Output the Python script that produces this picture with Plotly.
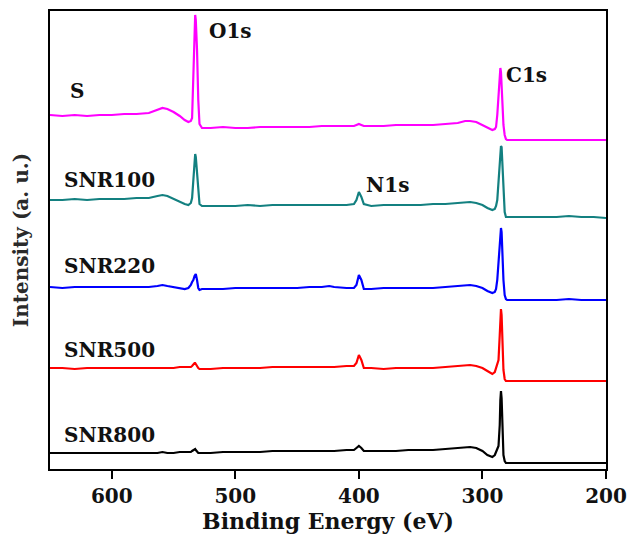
import plotly.graph_objects as go

# Binding-energy sampling points (eV), shared by all spectra
binding_energy = [
    650, 640, 630, 620, 610, 600, 590, 580, 570, 563,
    559, 555, 550, 545, 541, 538, 536, 535, 534, 533,
    532.5, 532, 531, 530, 529, 527, 520, 510, 500, 490,
    480, 470, 460, 450, 440, 430, 424, 420, 410, 404,
    402, 400, 398, 396, 390, 380, 370, 360, 350, 340,
    330, 320, 314, 310, 305, 300, 296, 292, 290, 289,
    288, 287, 286, 285.5, 285, 284.5, 284, 283, 282, 281,
    280, 270, 260, 250, 240, 230, 220, 210, 200,
]

# Stacked survey spectra (arbitrary intensity, offset for display)
int_S = [
    354, 353, 354, 353, 354, 354, 355, 355, 356, 359,
    361, 360, 357, 353, 349, 347, 348, 351, 389, 439,
    454, 449, 419, 369, 345, 341, 341, 342, 341, 341,
    342, 342, 342, 342, 342, 343, 343, 343, 343, 343,
    344, 345, 344, 343, 343, 343, 344, 344, 344, 344,
    345, 346, 348, 348, 347, 344, 341, 339, 340, 342,
    354, 374, 397, 401, 397, 381, 364, 344, 334, 330,
    329, 329, 329, 329, 329, 329, 329, 329, 329,
]
int_SNR100 = [
    269, 269, 270, 269, 270, 270, 270, 271, 271, 273,
    274, 273, 270, 267, 265, 264, 266, 271, 289, 309,
    315, 312, 294, 274, 265, 263, 263, 263, 263, 264,
    263, 264, 264, 264, 264, 264, 264, 264, 264, 265,
    269, 277, 272, 265, 263, 264, 264, 264, 264, 265,
    265, 266, 267, 267, 266, 264, 261, 259, 260, 263,
    269, 289, 311, 319, 323, 322, 311, 279, 257, 252,
    252, 252, 252, 252, 252, 253, 252, 252, 251,
]
int_SNR220 = [
    182, 181, 182, 182, 182, 182, 182, 182, 182, 183,
    184, 183, 182, 181, 180, 181, 184, 187, 189, 193,
    195, 195, 189, 181, 179, 180, 180, 180, 181, 181,
    181, 181, 181, 181, 182, 182, 183, 182, 181, 181,
    184, 194, 189, 180, 180, 181, 181, 181, 181, 181,
    182, 183, 184, 184, 183, 181, 178, 176, 177, 180,
    189, 209, 231, 239, 241, 237, 219, 189, 174, 170,
    169, 169, 169, 169, 169, 170, 169, 169, 169,
]
int_SNR500 = [
    101, 101, 100, 101, 101, 101, 101, 101, 101, 101,
    101, 101, 101, 102, 102, 102, 102, 103, 105, 106,
    106, 105, 102, 101, 100, 100, 100, 101, 101, 101,
    101, 102, 102, 102, 102, 102, 102, 102, 103, 103,
    106, 114, 109, 101, 101, 100, 101, 101, 101, 101,
    102, 103, 104, 104, 103, 101, 98, 95, 97, 101,
    105, 109, 134, 154, 160, 154, 129, 99, 90, 88,
    88, 88, 88, 88, 88, 88, 88, 88, 88,
]
int_SNR800 = [
    16, 16, 16, 16, 16, 16, 16, 16, 16, 16,
    17, 16, 16, 17, 17, 17, 17, 18, 19, 20,
    20, 19, 17, 16, 16, 16, 16, 17, 17, 17,
    17, 18, 18, 18, 18, 18, 18, 18, 19, 19,
    21, 23, 21, 18, 18, 18, 18, 19, 19, 19,
    20, 21, 22, 22, 21, 18, 14, 12, 14, 18,
    20, 23, 44, 69, 78, 71, 44, 14, 8, 6,
    6, 6, 6, 6, 6, 6, 6, 6, 6,
]

sample_names = ["S", "SNR100", "SNR220", "SNR500", "SNR800"]
sample_colors = ["#FF00FF", "#138080", "#0000FF", "#FF0000", "#000000"]
sample_data = [int_S, int_SNR100, int_SNR220, int_SNR500, int_SNR800]

# Label anchor points (binding energy, intensity) for the sample names
name_be = [628, 602, 602, 602, 602]
name_int = [378, 289, 203, 119, 34]

# Core-level peak labels
peak_labels = ["O1s", "N1s", "C1s"]
peak_be = [504, 377, 264]
peak_int = [438, 284, 394]

FONT = "DejaVu Serif"

fig = go.Figure()
for name, color, data in zip(sample_names, sample_colors, sample_data):
    fig.add_trace(go.Scatter(
        x=binding_energy, y=data, mode="lines", name=name,
        line=dict(color=color, width=2.2),
    ))

annotations = []
for name, xb, yi in zip(sample_names, name_be, name_int):
    annotations.append(dict(
        x=xb, y=yi, xref="x", yref="y", text=name, showarrow=False,
        font=dict(family=FONT, size=20, color="#111111", weight="bold"),
    ))
for name, xb, yi in zip(peak_labels, peak_be, peak_int):
    annotations.append(dict(
        x=xb, y=yi, xref="x", yref="y", text=name, showarrow=False,
        font=dict(family=FONT, size=20, color="#111111", weight="bold"),
    ))

fig.update_layout(
    width=630, height=535,
    margin=dict(l=50, r=24, t=11, b=66),
    paper_bgcolor="white", plot_bgcolor="white",
    showlegend=False,
    annotations=annotations,
    xaxis=dict(
        range=[650, 200],
        tickvals=[600, 500, 400, 300, 200],
        ticks="outside", ticklen=8, tickwidth=2, tickcolor="black",
        showline=True, linewidth=2, linecolor="black", mirror=True,
        showgrid=False, zeroline=False,
        tickfont=dict(family=FONT, size=20, color="#111111", weight="bold"),
        title=dict(text="Binding Energy (eV)", standoff=4,
                   font=dict(family=FONT, size=22, color="#111111", weight="bold")),
        automargin=False,
    ),
    yaxis=dict(
        range=[0, 458],
        showticklabels=False, ticks="",
        showline=True, linewidth=2, linecolor="black", mirror=True,
        showgrid=False, zeroline=False,
        title=dict(text="Intensity (a. u.)", standoff=14,
                   font=dict(family=FONT, size=20, color="#2a2a2a", weight="bold")),
        automargin=False,
    ),
)

fig.write_html("out.html")
